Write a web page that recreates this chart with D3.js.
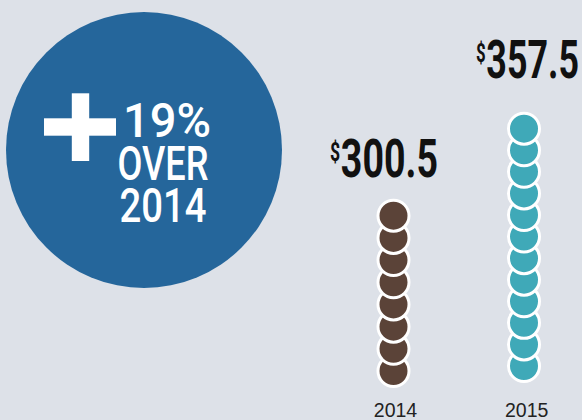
<!DOCTYPE html>
<html>
<head>
<meta charset="utf-8">
<script src="https://cdn.jsdelivr.net/npm/d3@7"></script>
<style>
  html, body { margin: 0; padding: 0; background: #dde1e8; }
  svg { display: block; }
</style>
</head>
<body>
<svg id="chart" width="582" height="420"></svg>
<script>
// ---- data ----
const years = ["2014", "2015"];
const amounts = [300.5, 357.5];
const coinCounts = [8, 12];
const growthLines = ["19%", "OVER", "2014"];
const colors = ["#5b4338", "#3fa9b8"];

// ---- layout ----
const W = 582, H = 420;
const svg = d3.select("#chart");
svg.append("rect").attr("width", W).attr("height", H).attr("fill", "#dde1e8");

// horizontally condense a text (placed at 0,0 inside g) to a target ink width
function fitWidth(g, textSel, x0, base, targetW) {
  const bb = textSel.node().getBBox();
  const sx = targetW / bb.width;
  g.attr("transform", `translate(${x0 - bb.x * sx},${base}) scale(${sx},1)`);
}

// growth badge
const badge = svg.append("g");
badge.append("circle").attr("cx", 144).attr("cy", 150).attr("r", 138).attr("fill", "#25669b");
badge.append("rect").attr("x", 44).attr("y", 118.3).attr("width", 72).attr("height", 17.4).attr("fill", "#fff");
badge.append("rect").attr("x", 71.8).attr("y", 93.3).attr("width", 17.4).attr("height", 67.7).attr("fill", "#fff");

const lineLayout = [
  {x: 123, y: 137, w: 88},
  {x: 117.5, y: 180, w: 91},
  {x: 119.5, y: 222, w: 87}
];
growthLines.forEach((s, i) => {
  const g = badge.append("g");
  const t = g.append("text")
    .attr("x", 0).attr("y", 0)
    .attr("fill", "#fff")
    .style("font-family", "Roboto, 'Liberation Sans', sans-serif")
    .style("font-weight", 500)
    .style("font-size", "48px")
    .text(s);
  fitWidth(g, t, lineLayout[i].x, lineLayout[i].y, lineLayout[i].w);
});

// coin stacks
const x = d3.scalePoint().domain(years).range([393.5, 524]);
const stackRange = [[371, 215.7], [366, 128.7]];
const coinR = 15.5;

years.forEach((yr, i) => {
  const y = d3.scaleLinear().domain([0, coinCounts[i] - 1]).range(stackRange[i]);
  svg.append("g").selectAll("circle")
    .data(d3.range(coinCounts[i]))
    .join("circle")
    .attr("cx", x(yr))
    .attr("cy", d => y(d))
    .attr("r", coinR)
    .attr("fill", colors[i])
    .attr("stroke", "#fff")
    .attr("stroke-width", 3);
});

// amount labels ($ as superscript inside the same text run)
const fmt = d3.format(".1f");
const labelLayout = [
  {x: 330, base: 177, w: 108},
  {x: 476, base: 78, w: 103}
];
amounts.forEach((v, i) => {
  const L = labelLayout[i];
  const g = svg.append("g");
  const t = g.append("text")
    .attr("x", 0).attr("y", 0)
    .attr("fill", "#111")
    .style("font-family", "Roboto, 'Liberation Sans', sans-serif")
    .style("font-weight", 700);
  t.append("tspan")
    .attr("dy", -16)
    .style("font-size", "25px")
    .text("$");
  t.append("tspan")
    .attr("dy", 16)
    .attr("dx", 1)
    .style("font-size", "53px")
    .text(fmt(v));
  fitWidth(g, t, L.x, L.base, L.w);
});

// year labels
svg.append("g").selectAll("text").data(years).join("text")
  .attr("x", (d, i) => x(d) + (i === 0 ? 2 : 2.7))
  .attr("y", 417)
  .attr("text-anchor", "middle")
  .attr("fill", "#222")
  .style("font-family", "'Liberation Sans', Arial, sans-serif")
  .style("font-size", "19.5px")
  .text(d => d);
</script>
</body>
</html>
